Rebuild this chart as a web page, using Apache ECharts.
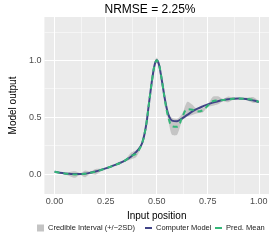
<!DOCTYPE html>
<html><head><meta charset="utf-8">
<script src="https://cdn.jsdelivr.net/npm/echarts@6/dist/echarts.min.js"></script>
<style>html,body{margin:0;padding:0;background:#fff}#c{width:274px;height:240px}</style>
</head><body><div id="c"></div>
<script>
const TITLE = 'NRMSE = 2.25%';
const X = [0, 0.025, 0.05, 0.075, 0.1, 0.125, 0.15, 0.175, 0.2, 0.225, 0.25, 0.275, 0.3, 0.325, 0.35, 0.375, 0.4, 0.42, 0.43, 0.44, 0.45, 0.46, 0.47, 0.48, 0.49, 0.5, 0.51, 0.52, 0.53, 0.54, 0.55, 0.56, 0.575, 0.6, 0.625, 0.65, 0.675, 0.7, 0.725, 0.75, 0.775, 0.8, 0.825, 0.85, 0.875, 0.9, 0.925, 0.95, 0.975, 1.0];
const MODEL = [0.02, 0.012, 0.006, 0.002, 0.0, 0.0, 0.004, 0.012, 0.022, 0.035, 0.05, 0.066, 0.083, 0.102, 0.125, 0.155, 0.195, 0.24, 0.28, 0.35, 0.45, 0.59, 0.73, 0.86, 0.96, 1.0, 0.97, 0.88, 0.77, 0.66, 0.57, 0.51, 0.47, 0.465, 0.49, 0.52, 0.55, 0.575, 0.595, 0.612, 0.628, 0.64, 0.65, 0.658, 0.662, 0.664, 0.662, 0.656, 0.646, 0.634];
const PRED = [0.02, 0.012, 0.005, 0.0, -0.004, 0.0, 0.002, 0.012, 0.02, 0.035, 0.05, 0.066, 0.083, 0.1, 0.125, 0.16, 0.18, 0.235, 0.28, 0.35, 0.45, 0.59, 0.73, 0.86, 0.96, 1.0, 0.97, 0.88, 0.77, 0.65, 0.55, 0.48, 0.42, 0.415, 0.5, 0.57, 0.565, 0.55, 0.56, 0.6, 0.64, 0.648, 0.65, 0.656, 0.662, 0.664, 0.662, 0.658, 0.65, 0.634];
const HALF = [0.004, 0.004, 0.006, 0.018, 0.028, 0.008, 0.03, 0.01, 0.025, 0.012, 0.005, 0.005, 0.005, 0.006, 0.012, 0.03, 0.03, 0.015, 0.01, 0.01, 0.01, 0.01, 0.01, 0.012, 0.02, 0.025, 0.02, 0.012, 0.01, 0.012, 0.02, 0.04, 0.075, 0.07, 0.03, 0.065, 0.045, 0.015, 0.02, 0.01, 0.04, 0.035, 0.01, 0.025, 0.01, 0.005, 0.005, 0.015, 0.025, 0.008];
const X_TICKS = [0, 0.25, 0.5, 0.75, 1];
const X_MINOR = [0.125, 0.375, 0.625, 0.875];
const Y_TICKS = [0, 0.5, 1];
const Y_MINOR = [0.25, 0.75, 1.25];
const NAMES = ['Credible Interval (+/\u22122SD)', 'Computer Model', 'Pred. Mean'];

const band = X.map((x, i) => [x, PRED[i] - HALF[i], PRED[i] + HALF[i]]);
const model = X.map((x, i) => [x, MODEL[i]]);
const pred = X.map((x, i) => [x, PRED[i]]);

const FONT = 'Liberation Sans';
const chart = echarts.init(document.getElementById('c'), null, {renderer: 'canvas'});
const gridLines = [].concat(
  X_TICKS.map(v => ({xAxis: v, lineStyle: {width: 1}})),
  Y_TICKS.map(v => ({yAxis: v, lineStyle: {width: 1}})),
  X_MINOR.map(v => ({xAxis: v, lineStyle: {width: 0.5}})),
  Y_MINOR.map(v => ({yAxis: v, lineStyle: {width: 0.5}}))
);
function legendAt(left, name, icon, color) {
  return {top: 224, left: left, itemWidth: 7, itemHeight: 7, padding: 0, selectedMode: false,
    textStyle: {fontFamily: FONT, fontSize: 7.5, color: '#1a1a1a', padding: [0, 0, 0, -1]},
    data: [{name: name, icon: icon, itemStyle: {color: color}}]};
}
chart.setOption({
  animation: false,
  graphic: [{type: 'text', x: 150, y: 10, style: {text: TITLE, font: '12px "Liberation Sans"', fill: '#000', textAlign: 'center', textVerticalAlign: 'middle'}}],
  grid: {left: 31, right: 5, top: 17, bottom: 46, show: true, backgroundColor: '#EBEBEB', borderWidth: 0},
  xAxis: {type: 'value', min: -0.05, max: 1.05, name: 'Input position', nameLocation: 'middle', nameGap: 8,
    nameTextStyle: {fontFamily: FONT, fontSize: 10, color: '#000'},
    axisLine: {show: false}, splitLine: {show: false},
    axisTick: {show: true, length: 3, customValues: X_TICKS, lineStyle: {color: '#4d4d4d', width: 1}},
    axisLabel: {customValues: X_TICKS, margin: 3, fontFamily: FONT, fontSize: 9, color: '#4d4d4d', formatter: v => v.toFixed(2)}},
  yAxis: {type: 'value', min: -0.175, max: 1.38, name: 'Model output', nameLocation: 'middle', nameGap: 24,
    nameTextStyle: {fontFamily: FONT, fontSize: 10, color: '#000'},
    axisLine: {show: false}, splitLine: {show: false},
    axisTick: {show: true, length: 3, customValues: Y_TICKS, lineStyle: {color: '#4d4d4d', width: 1}},
    axisLabel: {customValues: Y_TICKS, margin: 3, fontFamily: FONT, fontSize: 9, color: '#4d4d4d', formatter: v => v.toFixed(1)}},
  legend: [
    legendAt(37, NAMES[0], 'path://M0,0h7v7H0z', '#c4c4c4'),
    legendAt(145, NAMES[1], 'path://M0,0h7v2H0z', '#414487'),
    legendAt(215, NAMES[2], 'path://M0,0h7v2H0z', '#35B779')
  ],
  series: [
    {name: NAMES[0], type: 'custom', data: band, z: 2, color: '#c4c4c4',
      encode: {x: 0, y: [1, 2]},
      markLine: {silent: true, symbol: 'none', label: {show: false}, z: 1, lineStyle: {color: '#fff', type: 'solid'}, data: gridLines},
      renderItem: function (params, api) {
        if (params.dataIndex !== 0) return null;
        const up = band.map(d => api.coord([d[0], d[2]]));
        const lo = band.map(d => api.coord([d[0], d[1]])).reverse();
        return {type: 'polygon', shape: {points: up.concat(lo), smooth: 0.25},
          style: {fill: 'rgba(150,150,150,0.45)', stroke: null}};
      }},
    {name: NAMES[1], type: 'line', data: model, smooth: 0.4, symbol: 'none', z: 3, color: '#414487',
      lineStyle: {width: 2, color: '#414487'}},
    {name: NAMES[2], type: 'line', data: pred, smooth: 0.4, symbol: 'none', z: 4, color: '#35B779',
      lineStyle: {width: 2, color: '#35B779', type: [5, 4]}}
  ]
});
</script></body></html>
